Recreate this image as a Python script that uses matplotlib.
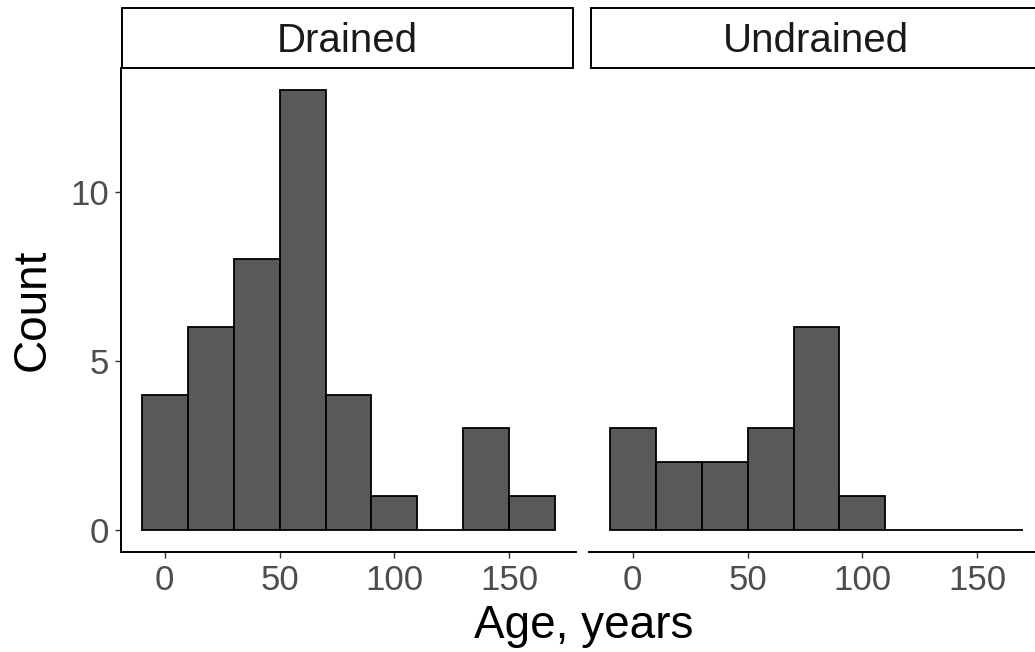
import matplotlib.pyplot as plt
from matplotlib.patches import Rectangle

# histogram bins (width 20 years, centred on multiples of 20)
bin_centers = [0, 20, 40, 60, 80, 100, 120, 140, 160]
bin_width = 20
drained_counts = [4, 6, 8, 13, 4, 1, 0, 3, 1]
undrained_counts = [3, 2, 2, 3, 6, 1, 0, 0, 0]

panels = ['Drained', 'Undrained']
panel_counts = [drained_counts, undrained_counts]
x_ticks = [0, 50, 100, 150]
y_ticks = [0, 5, 10]

plt.rcParams['font.family'] = ['Liberation Sans', 'DejaVu Sans']

W, H = 1035, 652
fig = plt.figure(figsize=(W / 100, H / 100), dpi=100)


def px_box(x0, y0, x1, y1):
    # pixel box (top-left origin) -> figure fraction rect
    return [x0 / W, 1 - y1 / H, (x1 - x0) / W, (y1 - y0) / H]


panel_boxes = [(121, 68, 576, 552), (589, 68, 1044, 552)]
strip_boxes = [(122, 8, 573, 68), (591, 8, 1044, 68)]

x_lo = bin_centers[0] - bin_width / 2
x_hi = bin_centers[-1] + bin_width / 2
x_pad = 0.05 * (x_hi - x_lo)
y_max = max(max(c) for c in panel_counts)

for i, (name, counts) in enumerate(zip(panels, panel_counts)):
    ax = fig.add_axes(px_box(*panel_boxes[i]))
    ax.bar(bin_centers, counts, width=bin_width, color='#595959',
           edgecolor='black', linewidth=1.3)
    ax.set_xlim(x_lo - x_pad, x_hi + x_pad)
    ax.set_ylim(-0.05 * y_max, 1.05 * y_max)
    ax.set_xticks(x_ticks)
    ax.set_yticks(y_ticks)
    for side in ('top', 'right'):
        ax.spines[side].set_visible(False)
    ax.spines['bottom'].set_linewidth(1.4)
    ax.spines['left'].set_linewidth(1.4)
    ax.tick_params(axis='both', labelsize=25, labelcolor='#4D4D4D',
                   color='#333333', length=4.5, width=1.0, pad=4)
    if i > 0:
        ax.spines['left'].set_visible(False)
        ax.tick_params(axis='y', left=False, labelleft=False)

    # facet strip
    sax = fig.add_axes(px_box(*strip_boxes[i]))
    sax.set_xlim(0, 1)
    sax.set_ylim(0, 1)
    sax.axis('off')
    sax.add_patch(Rectangle((0, 0), 1, 1, facecolor='white',
                            edgecolor='black', linewidth=1.4,
                            transform=sax.transAxes, clip_on=False))
    strip_x = 0.5 if i == 0 else (816 - 591) / (1044 - 591)
    sax.text(strip_x, 0.45, name, ha='center', va='center',
             fontsize=29, color='#1A1A1A')

fig.text(584 / W, 1 - 638 / H, 'Age, years', ha='center', va='baseline',
         fontsize=33, color='black')
fig.text(33 / W, 1 - 310 / H, 'Count', ha='center', va='center',
         rotation=90, fontsize=33, color='black')

fig.savefig('out.png', dpi=100)
